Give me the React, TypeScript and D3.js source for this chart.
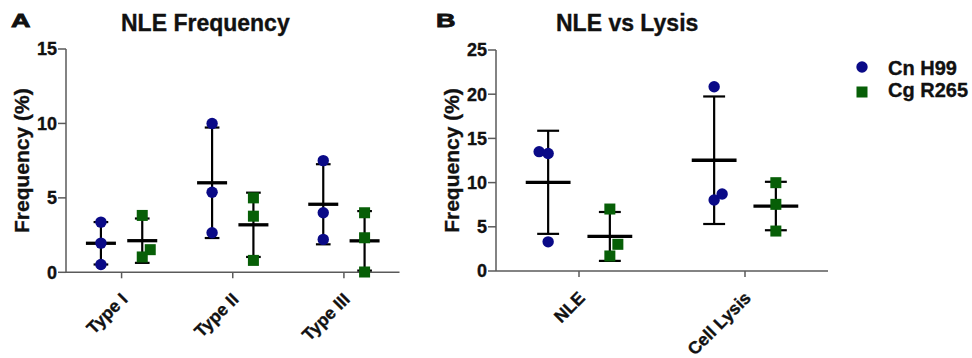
import React from "react";
import * as d3 from "d3";

// ---- Data ----
const seriesNames = ["Cn H99", "Cg R265"];
const seriesColors = ["#0a0a87", "#075f07"];

const panelACategories = ["Type I", "Type II", "Type III"];
const panelACn = [
  [3.37, 1.96, 0.52],
  [10.0, 5.38, 2.66],
  [7.5, 4.0, 2.21],
];
const panelACg = [
  [3.82, 1.52, 1.03],
  [5.0, 3.77, 0.8],
  [4.0, 2.32, 0.02],
];
const panelAYTicks = [0, 5, 10, 15];

const panelBCategories = ["NLE", "Cell Lysis"];
const panelBCn = [
  [13.5, 13.3, 3.3],
  [20.85, 8.03, 8.71],
];
const panelBCg = [
  [7.01, 3.02, 1.7],
  [9.99, 7.54, 4.52],
];
const panelBYTicks = [0, 5, 10, 15, 20, 25];

// jitter (px) for overlapping points, GraphPad-style
const panelAJitter = [
  [[0, 0, 0], [0, 0, 0], [0, 0, 0]],
  [[0, 8, 0], [0, 0, 0], [0, 0, 0]],
];
const panelBJitter = [
  [[-9, 0, 0], [0, 0, 8]],
  [[0, 8, 0], [0, 0, 0]],
];

const FONT = "'Liberation Sans', Arial, Helvetica, sans-serif";
const AXIS_COLOR = "#5a5a5a";
const TXT = "#111";
const TXT_STROKE = 0.35;

type PanelProps = {
  categories: string[];
  series: number[][][];
  jitter: number[][][];
  yTicks: number[];
  x0: number;
  x1: number;
  yTop: number;
  yBottom: number;
  title: string;
  titleX: number;
  letter: string;
  letterX: number;
  ylabelX: number;
};

function Panel(p: PanelProps) {
  const yMax = p.yTicks[p.yTicks.length - 1];
  const y = d3.scaleLinear().domain([0, yMax]).range([p.yBottom, p.yTop]);
  const x = d3.scaleBand().domain(p.categories).range([p.x0, p.x1]).padding(0);
  const bw = x.bandwidth();
  const sub = d3.scalePoint().domain(["0", "1"]).range([0, bw]).padding(0.845);
  const meanHalf = bw * 0.135;
  const capHalf = bw * 0.066;
  const ry = (p.yTop + p.yBottom) / 2;
  const textProps = {
    fontFamily: FONT,
    fontWeight: "bold" as const,
    fill: TXT,
    stroke: TXT,
    strokeWidth: TXT_STROKE,
  };

  return (
    <g>
      {/* axes */}
      <line x1={p.x0} x2={p.x0} y1={p.yTop} y2={p.yBottom} stroke={AXIS_COLOR} strokeWidth={1.5} />
      <line x1={p.x0} x2={p.x1} y1={p.yBottom} y2={p.yBottom} stroke={AXIS_COLOR} strokeWidth={1.5} />
      {p.yTicks.map((t) => (
        <g key={"yt" + t}>
          <line x1={p.x0 - 8} x2={p.x0} y1={y(t)} y2={y(t)} stroke={AXIS_COLOR} strokeWidth={1.5} />
          <text x={p.x0 - 9} y={y(t)} dy="0.36em" textAnchor="end" fontSize={18} {...textProps}>
            {t}
          </text>
        </g>
      ))}
      {p.categories.map((c) => {
        const cx = (x(c) as number) + bw / 2;
        return (
          <g key={"xt" + c}>
            <line x1={cx} x2={cx} y1={p.yBottom} y2={p.yBottom + 6} stroke={AXIS_COLOR} strokeWidth={1.5} />
            <text
              transform={`translate(${cx + 7},${p.yBottom + 28}) rotate(-45)`}
              textAnchor="end"
              fontSize={17.5}
              {...textProps}
            >
              {c}
            </text>
          </g>
        );
      })}
      {/* y label */}
      <text
        transform={`translate(${p.ylabelX},${ry}) rotate(-90)`}
        textAnchor="middle"
        fontSize={21}
        {...textProps}
      >
        Frequency (%)
      </text>
      {/* title & letter */}
      <text x={p.titleX} y={31} fontSize={23} {...textProps}>
        {p.title}
      </text>
      <text
        x={p.letterX}
        y={26.5}
        fontSize={19}
        textLength={19.5}
        lengthAdjust="spacingAndGlyphs"
        {...textProps}
        strokeWidth={0.8}
      >
        {p.letter}
      </text>
      {/* error bars: mean ± SD */}
      {p.series.map((s, si) =>
        s.map((vals, ci) => {
          const cx = (x(p.categories[ci]) as number) + (sub(String(si)) as number);
          const m = d3.mean(vals) as number;
          const sd = d3.deviation(vals) as number;
          const lo = Math.max(0, m - sd);
          const hi = m + sd;
          return (
            <g key={`eb${si}-${ci}`} stroke="#000">
              <line x1={cx} x2={cx} y1={y(hi)} y2={y(lo)} strokeWidth={2.2} />
              <line x1={cx - capHalf} x2={cx + capHalf} y1={y(hi)} y2={y(hi)} strokeWidth={2.2} />
              <line x1={cx - capHalf} x2={cx + capHalf} y1={y(lo)} y2={y(lo)} strokeWidth={2.2} />
              <line x1={cx - meanHalf} x2={cx + meanHalf} y1={y(m)} y2={y(m)} strokeWidth={3.3} />
            </g>
          );
        })
      )}
      {/* points */}
      {p.series.map((s, si) =>
        s.map((vals, ci) => {
          const cx = (x(p.categories[ci]) as number) + (sub(String(si)) as number);
          return vals.map((v, k) => {
            const px = cx + p.jitter[si][ci][k];
            const py = y(v);
            return si === 0 ? (
              <circle key={`pt${si}-${ci}-${k}`} cx={px} cy={py} r={5.7} fill={seriesColors[0]} />
            ) : (
              <rect
                key={`pt${si}-${ci}-${k}`}
                x={px - 5.5}
                y={py - 5.5}
                width={11}
                height={11}
                fill={seriesColors[1]}
              />
            );
          });
        })
      )}
    </g>
  );
}

export default function App() {
  return (
    <svg
      width={972}
      height={358}
      style={{ position: "absolute", left: 0, top: 0, background: "#fff" }}
    >
      <rect x={0} y={0} width={972} height={358} fill="#fff" />
      <Panel
        categories={panelACategories}
        series={[panelACn, panelACg]}
        jitter={panelAJitter}
        yTicks={panelAYTicks}
        x0={66}
        x1={399.5}
        yTop={49}
        yBottom={272.3}
        title="NLE Frequency"
        titleX={121}
        letter="A"
        letterX={11}
        ylabelX={29}
      />
      <Panel
        categories={panelBCategories}
        series={[panelBCn, panelBCg]}
        jitter={panelBJitter}
        yTicks={panelBYTicks}
        x0={496}
        x1={828}
        yTop={50}
        yBottom={271}
        title="NLE vs Lysis"
        titleX={556}
        letter="B"
        letterX={436}
        ylabelX={459}
      />
      {/* legend */}
      <g fontFamily={FONT} fontWeight="bold" fontSize={20} fill={TXT} stroke={TXT} strokeWidth={TXT_STROKE}>
        <circle cx={862} cy={67} r={5.7} fill={seriesColors[0]} stroke="none" />
        <text x={888} y={74.5}>
          {seriesNames[0]}
        </text>
        <rect x={856.5} y={86.5} width={11} height={11} fill={seriesColors[1]} stroke="none" />
        <text x={888} y={97}>
          {seriesNames[1]}
        </text>
      </g>
    </svg>
  );
}
